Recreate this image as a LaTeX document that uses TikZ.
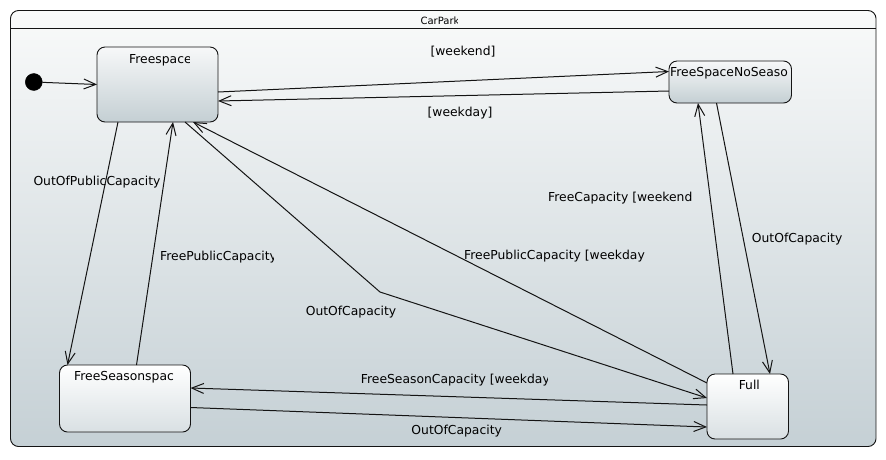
\documentclass[tikz,border=0pt]{standalone}
\usepackage{fontspec}
\setmainfont{DejaVu Sans}
\usetikzlibrary{arrows.meta}
\definecolor{cpTop}{HTML}{F9FAFA}
\definecolor{cpBot}{HTML}{C5D0D5}
\definecolor{stATop}{HTML}{F7F8F9}
\definecolor{stABot}{HTML}{C4CFD3}
\definecolor{stBBot}{HTML}{D9E0E3}
\definecolor{ink}{HTML}{141414}
\begin{document}
\begin{tikzpicture}[x=1pt,y=-1pt,
  container/.style={draw=ink, line width=0.9pt, rounded corners=8pt, anchor=north west,
    inner sep=0pt, outer sep=0pt, top color=cpTop, bottom color=cpBot},
  stbase/.style={draw=ink, line width=0.9pt, rounded corners=8pt, anchor=north west,
    inner sep=0pt, outer sep=0pt},
  stA/.style={stbase, top color=stATop, bottom color=stABot},
  stB/.style={stbase, top color=white, bottom color=stBBot},
  initdot/.style={circle, fill=black, draw=black, minimum size=17pt, inner sep=0pt},
  trans/.style={draw=ink, line width=1pt, -{Straight Barb[length=12pt,width=10pt]}},
  lbl/.style={inner sep=0pt, font=\fontsize{12.35}{14}\selectfont},
  ttl/.style={inner sep=0pt, font=\fontsize{10}{12}\selectfont}]
\useasboundingbox (0,0) rectangle (886,459);

% container
\node[container, minimum width=865.5pt, minimum height=436pt] (cp) at (10.5,10.5) {};
\draw[draw=ink, line width=0.9pt] ([yshift=-18pt]cp.north west) -- ([yshift=-18pt]cp.north east);
\begin{scope}
  \clip (400,12) rectangle (457.5,27);
  \node[ttl, anchor=base] (cpT) at (440,24.5) {CarPark};
\end{scope}

% states
\node[stA, minimum width=121pt, minimum height=75pt] (fs) at (97,47) {};
\node[stA, minimum width=122.5pt, minimum height=42pt] (ns) at (669,61) {};
\node[stB, minimum width=81.5pt, minimum height=65pt] (full) at (707,374) {};
\node[stB, minimum width=131pt, minimum height=67pt] (fsp) at (59.5,365) {};
\node[initdot] (ini) at (33.8,82) {};

% state names
\begin{scope}
  \clip (120,48) rectangle (189,70);
  \node[lbl, anchor=base west] (fsT) at (129,63.3) {Freespace};
\end{scope}
\node[lbl, anchor=base west] (nsT) at (670,76) {FreeSpaceNoSeaso};
\node[lbl, anchor=base] (fullT) at (749.3,389) {Full};
\node[lbl, anchor=base west] (fspT) at (74,380) {FreeSeasonspac};

% transitions
\draw[trans] (ini) -- (fs.west);
\draw[trans] ([yshift=-7.5pt]fs.east) -- ([yshift=10.5pt]ns.west);
\draw[trans] ([yshift=-9pt]ns.west) -- ([yshift=-16.5pt]fs.east);
\draw[trans] ([xshift=21pt]fs.south west) -- ([xshift=8pt]fsp.north west);
\draw[trans] ([xshift=77pt]fsp.north west) -- ([xshift=76pt]fs.south west);
\coordinate (bend) at (380,292);
\draw[trans] ([xshift=88pt]fs.south west) -- (bend) -- ([yshift=-24pt]full.north west);
\draw[trans] ([yshift=-9pt]full.north west) -- ([xshift=96pt]fs.south west);
\draw[trans] ([xshift=26pt]full.north west) -- ([xshift=29pt]ns.south west);
\draw[trans] ([xshift=47.5pt]ns.south west) -- ([xshift=63pt]full.north west);
\draw[trans] ([yshift=-31pt]full.north west) -- ([yshift=-23pt]fsp.north east);
\draw[trans] ([yshift=-42.5pt]fsp.north east) -- ([yshift=-53pt]full.north west);

% transition labels
\node[lbl, anchor=base] (l1) at (463,55.5) {[weekend]};
\node[lbl, anchor=base] (l2) at (460,116.5) {[weekday]};
\node[lbl, anchor=base] (l3) at (97,185) {OutOfPublicCapacity};
\begin{scope}
  \clip (150,240) rectangle (273.5,265);
  \node[lbl, anchor=base west] (l4) at (160,260) {FreePublicCapacity};
\end{scope}
\node[lbl, anchor=base] (l5) at (351,315) {OutOfCapacity};
\node[lbl, anchor=base west] (l6) at (464,259) {FreePublicCapacity [weekday};
\node[lbl, anchor=base west] (l7) at (548,201) {FreeCapacity [weekend};
\node[lbl, anchor=base west] (l8) at (751.7,242) {OutOfCapacity};
\begin{scope}
  \clip (350,365) rectangle (547.5,388);
  \node[lbl, anchor=base west] (l9) at (360.7,383.5) {FreeSeasonCapacity [weekday};
\end{scope}
\node[lbl, anchor=base] (l10) at (456.7,434.5) {OutOfCapacity};
\end{tikzpicture}
\end{document}
